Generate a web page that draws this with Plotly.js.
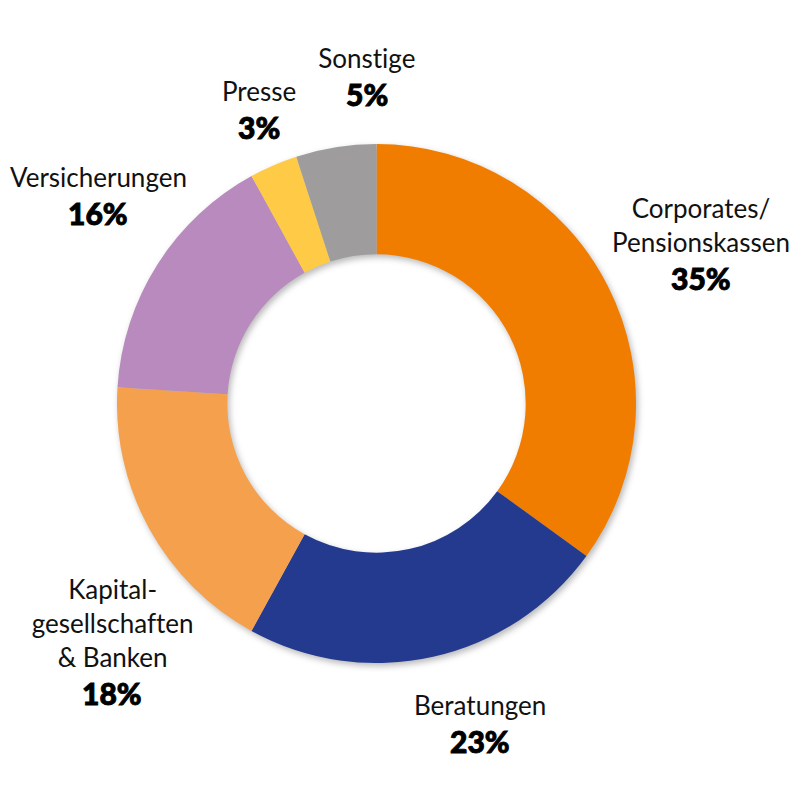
<!DOCTYPE html>
<html>
<head>
<meta charset="utf-8">
<script src="https://cdn.plot.ly/plotly-3.0.1.min.js"></script>
<style>
  html, body { margin: 0; padding: 0; background: #fff; }
  #chart { width: 800px; height: 800px; }
  #chart text {
    font-variant-ligatures: none !important;
    font-feature-settings: "liga" 0, "clig" 0, "dlig" 0 !important;
    text-rendering: optimizeSpeed;
  }
  /* soft shadow round the ring, as in the original */
  #chart .pielayer { filter: drop-shadow(2px 3px 3px rgba(0, 0, 0, 0.28)); }
  #chart .annotation.pct text { stroke: #000; stroke-width: 0.9px; }
</style>
</head>
<body>
<div id="chart"></div>
<script>
// chart data
const labels = [
  "Corporates/<br>Pensionskassen",
  "Beratungen",
  "Kapital-<br>gesellschaften<br>& Banken",
  "Versicherungen",
  "Presse",
  "Sonstige",
];
const values = [35, 23, 18, 16, 3, 5];
const colors = ["#F07D00", "#233A8E", "#F5A04C", "#B98ABD", "#FFCB47", "#9E9C9D"];

// where each label block sits (pixel centre of the percent line)
const labelAnchors = [
  { x: 701, y: 278 },
  { x: 480, y: 741 },
  { x: 112, y: 693 },
  { x: 98, y: 213 },
  { x: 259, y: 127 },
  { x: 367, y: 94 },
];

const W = 800;
const H = 800;
const px = (x) => x / W;
const py = (y) => 1 - y / H;

const nameFont = { family: "Lato, 'Open Sans', sans-serif", size: 26, color: "#111" };
const pctFont = { family: "Lato, 'Open Sans', sans-serif", size: 30, color: "#000", weight: 900 };

const annotations = [];
labels.forEach((name, i) => {
  const a = labelAnchors[i];
  annotations.push({
    xref: "paper",
    yref: "paper",
    x: px(a.x),
    y: py(a.y - 18),
    xanchor: "center",
    yanchor: "bottom",
    align: "center",
    showarrow: false,
    text: name,
    font: nameFont,
  });
  annotations.push({
    xref: "paper",
    yref: "paper",
    x: px(a.x),
    y: py(a.y),
    xanchor: "center",
    yanchor: "middle",
    showarrow: false,
    text: `${values[i]}%`,
    font: pctFont,
  });
});

const trace = {
  type: "pie",
  labels: labels,
  values: values,
  sort: false,
  direction: "clockwise",
  rotation: 0,
  hole: 0.575,
  textinfo: "none",
  hoverinfo: "none",
  marker: { colors: colors, line: { width: 0 } },
  domain: { x: [px(117), px(636)], y: [py(663), py(144)] },
};

const layout = {
  width: W,
  height: H,
  margin: { l: 0, r: 0, t: 0, b: 0 },
  paper_bgcolor: "#ffffff",
  showlegend: false,
  annotations: annotations,
};

Plotly.newPlot("chart", [trace], layout, { displayModeBar: false, staticPlot: true }).then((gd) => {
  // percent annotations sit at odd indices; make them heavier
  gd.querySelectorAll(".annotation").forEach((el) => {
    if (Number(el.getAttribute("data-index")) % 2 === 1) el.classList.add("pct");
  });
});
</script>
</body>
</html>
